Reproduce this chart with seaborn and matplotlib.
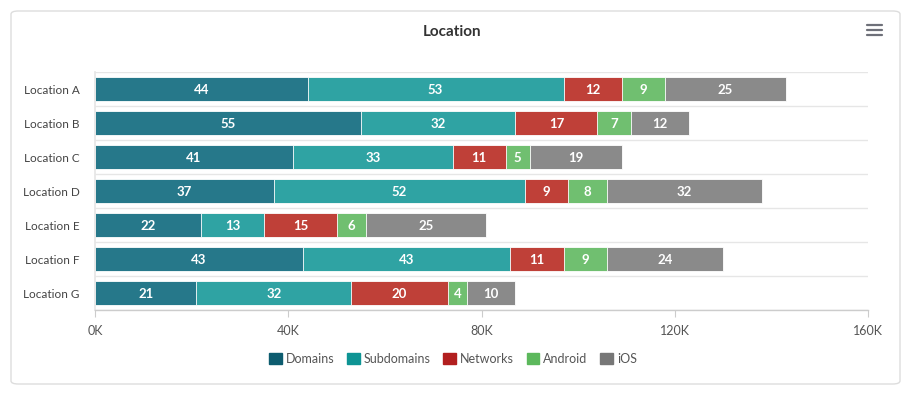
import numpy as np
import pandas as pd
import matplotlib
matplotlib.use("Agg")
import matplotlib.pyplot as plt
import seaborn as sns
from matplotlib.patches import Patch, FancyBboxPatch
from matplotlib.lines import Line2D
from matplotlib.ticker import FuncFormatter

categories = ["Location A", "Location B", "Location C", "Location D", "Location E", "Location F", "Location G"]
domains = [44, 55, 41, 37, 22, 43, 21]
subdomains = [53, 32, 33, 52, 13, 43, 32]
networks = [12, 17, 11, 9, 15, 11, 20]
android = [9, 7, 5, 8, 6, 9, 4]
ios = [25, 12, 19, 32, 25, 24, 10]
series_names = ["Domains", "Subdomains", "Networks", "Android", "iOS"]
legend_colors = ["#0d5c6f", "#0e9494", "#b21f1f", "#5cb85c", "#777777"]
bar_colors = ["#26788a", "#2fa3a3", "#bf4038", "#70bf70", "#8a8a8a"]
x_ticks = [0, 40, 80, 120, 160]

sns.set_theme(style="white")
plt.rcParams["font.family"] = ["Lato", "DejaVu Sans"]

series = [domains, subdomains, networks, android, ios]
df = pd.DataFrame({n: np.array(v) * 1000 for n, v in zip(series_names, series)})
df["Location"] = categories
cum = df[series_names].cumsum(axis=1)

fig = plt.figure(figsize=(9.18, 3.96), dpi=100)
ax = fig.add_axes([95/918, 1-310/396, (868-95)/918, 238/396])

# draw cumulative totals from last to first so they stack
for i in range(len(series_names) - 1, -1, -1):
    d = pd.DataFrame({"Location": categories, "val": cum[series_names[i]].values})
    sns.barplot(data=d, x="val", y="Location", orient="h", color=bar_colors[i],
                saturation=1, width=0.7, ax=ax, edgecolor="white", linewidth=0.6)

# value labels
for i, name in enumerate(series_names):
    starts = (cum[name] - df[name]).values
    for j, v in enumerate(df[name].values):
        ax.text(starts[j] + v / 2, j + 0.03, f"{v // 1000}", ha="center", va="center",
                color="white", fontsize=9.5, fontweight="bold")

ax.set_xlim(0, 160000)
ax.set_ylim(6.5, -0.5)
ax.set_xticks([t * 1000 for t in x_ticks])
ax.xaxis.set_major_formatter(FuncFormatter(lambda x, p: f"{int(x/1000)}K"))
ax.set_xlabel("")
ax.set_ylabel("")
ax.set_yticks(range(len(categories)))
ax.set_yticklabels(categories)
ax.tick_params(axis="y", length=0, pad=11, labelsize=8.5, labelcolor="#444444")
ax.tick_params(axis="x", length=5, width=0.8, color="#cccccc", labelsize=9, labelcolor="#555555", pad=6, direction="out")
ax.xaxis.set_ticks_position("bottom")
for y in np.arange(-0.5, 7, 1):
    ax.axhline(y, color="#e6e6e6", lw=1, zorder=0)
for s in ["top", "right"]:
    ax.spines[s].set_visible(False)
ax.spines["left"].set_color("#e6e6e6")
ax.spines["bottom"].set_color("#cccccc")
ax.spines["bottom"].set_linewidth(1)

# title
fig.text(452/918, 1-31.5/396, "Location", ha="center", va="center", fontsize=11,
         fontweight="bold", color="#333333")

# hamburger menu icon
for yy in [25, 30, 35]:
    fig.add_artist(Line2D([867/918, 882/918], [1-yy/396, 1-yy/396], color="#6e7079", lw=1.6))

# border
fig.add_artist(FancyBboxPatch((11/918, 1-384/396), (900-11)/918, (384-11)/396,
                              boxstyle="round,pad=0,rounding_size=0.008",
                              transform=fig.transFigure, facecolor="none",
                              edgecolor="#dddddd", lw=1))

handles = [Patch(facecolor=c, edgecolor=c, label=n) for n, c in zip(series_names, legend_colors)]
fig.legend(handles=handles, loc="center", bbox_to_anchor=(453/918, 1-359/396), ncol=5,
           frameon=False, fontsize=9, handlelength=1.0, handleheight=1.0,
           handletextpad=0.35, columnspacing=1.0, labelcolor="#555555")

fig.savefig("out.png", dpi=100)
